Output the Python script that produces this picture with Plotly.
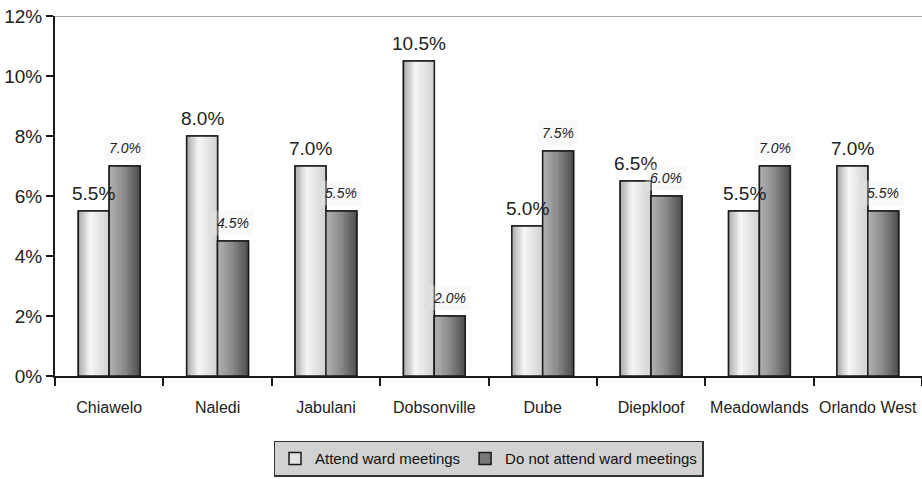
import plotly.graph_objects as go

# Share of residents per area, by ward-meeting attendance
areas = ["Chiawelo", "Naledi", "Jabulani", "Dobsonville", "Dube",
         "Diepkloof", "Meadowlands", "Orlando West"]
attend = [5.5, 8.0, 7.0, 10.5, 5.0, 6.5, 5.5, 7.0]
not_attend = [7.0, 4.5, 5.5, 2.0, 7.5, 6.0, 7.0, 5.5]
y_ticks = [0, 2, 4, 6, 8, 10, 12]

FONT = "Liberation Sans Narrow, Arial Narrow, Liberation Sans, Arial, sans-serif"
BAR_W = 0.285
N_STRIPS = 18


def lerp(stops, t):
    for (t0, c0), (t1, c1) in zip(stops, stops[1:]):
        if t0 <= t <= t1:
            f = (t - t0) / (t1 - t0) if t1 > t0 else 0
            v = round(c0 + (c1 - c0) * f)
            return f"rgb({v},{v},{v})"
    v = stops[-1][1]
    return f"rgb({v},{v},{v})"


light_stops = [(0, 165), (0.4, 246), (0.6, 234), (1, 210)]
dark_stops = [(0, 180), (0.5, 138), (1, 78)]

fig = go.Figure()

series = [
    ("Attend ward meetings", attend, -BAR_W, light_stops, "rgb(228,228,228)"),
    ("Do not attend ward meetings", not_attend, 0.0, dark_stops, "rgb(120,120,120)"),
]

for name, vals, off, stops, mid in series:
    # base bar (also provides the legend swatch)
    fig.add_trace(go.Bar(
        x=areas, y=vals, name=name, offset=off, width=BAR_W,
        marker=dict(color=mid, line=dict(color="#1a1a1a", width=1.5)),
        hoverinfo="skip",
    ))
    # horizontal shading strips
    sw = BAR_W / N_STRIPS
    for i in range(N_STRIPS):
        t = (i + 0.5) / N_STRIPS
        fig.add_trace(go.Bar(
            x=areas, y=vals, offset=off + i * sw, width=sw * 1.02,
            marker=dict(color=lerp(stops, t), line=dict(width=0)),
            showlegend=False, hoverinfo="skip",
        ))
    # outline on top
    fig.add_trace(go.Bar(
        x=areas, y=vals, offset=off, width=BAR_W,
        marker=dict(color="rgba(0,0,0,0)", line=dict(color="#1a1a1a", width=1.5)),
        showlegend=False, hoverinfo="skip",
    ))

annotations = []
for a, v in zip(areas, attend):
    annotations.append(dict(
        x=a, y=v, xref="x", yref="y", text=f"{v:.1f}%", showarrow=False,
        xshift=-BAR_W * 108 / 2, yshift=18,
        font=dict(family=FONT, size=19, color="#222"),
    ))
for a, v in zip(areas, not_attend):
    annotations.append(dict(
        x=a, y=v, xref="x", yref="y", text=f"<i>{v:.1f}%</i>", showarrow=False,
        xshift=BAR_W * 108 / 2, yshift=18,
        font=dict(family=FONT, size=14, color="#222"),
        bgcolor="rgba(238,238,238,0.35)", borderpad=4,
    ))

fig.update_layout(
    width=922, height=479,
    margin=dict(l=55, r=0, t=16, b=103),
    paper_bgcolor="white", plot_bgcolor="white",
    barmode="overlay",
    showlegend=True,
    legend=dict(
        orientation="h", x=0.5, xanchor="center", y=-0.18, yanchor="top",
        bgcolor="#d2d2d2", bordercolor="#333", borderwidth=1.5,
        font=dict(family=FONT, size=15, color="#111"),
        itemwidth=30, traceorder="normal", tracegroupgap=0,
    ),
    annotations=annotations,
    font=dict(family=FONT, color="#222"),
)

fig.update_xaxes(
    type="category", range=[-0.5, 7.5],
    showline=True, linecolor="#1a1a1a", linewidth=2,
    ticks="outside", tickson="boundaries", ticklen=8, tickwidth=1.5, tickcolor="#1a1a1a",
    tickfont=dict(family=FONT, size=16, color="#222"), ticklabelstandoff=16,
    showgrid=False, zeroline=False,
)
fig.update_yaxes(
    range=[0, 12], tickvals=y_ticks, ticktext=[f"{t}%" for t in y_ticks],
    showline=True, linecolor="#1a1a1a", linewidth=2,
    ticks="outside", ticklen=7, tickwidth=1.5, tickcolor="#1a1a1a",
    tickfont=dict(family=FONT, size=19, color="#222"),
    showgrid=False, zeroline=False,
)

# top border of the plotting area
fig.add_shape(type="line", xref="paper", yref="y", x0=0, x1=1, y0=12, y1=12,
              line=dict(color="#8a8a8a", width=1.5))

fig.write_html("out.html")
